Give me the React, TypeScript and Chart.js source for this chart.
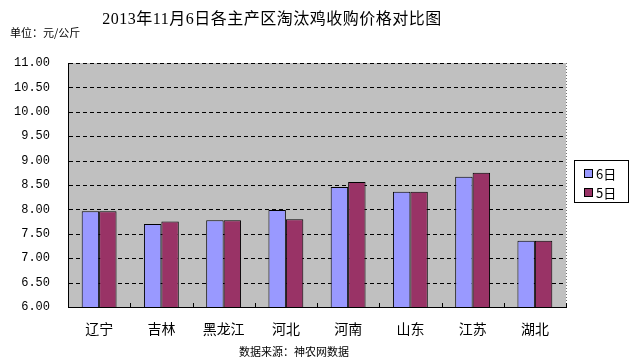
import React, { useEffect, useRef } from "react";
import { Chart, registerables } from "chart.js";

Chart.register(...registerables);

const TITLE = "2013年11月6日各主产区淘汰鸡收购价格对比图";
const UNIT = "单位：元/公斤";
const SOURCE = "数据来源：神农网数据";
const categories = ["辽宁", "吉林", "黑龙江", "河北", "河南", "山东", "江苏", "湖北"];
const seriesNames = ["6日", "5日"];
const day6 = [7.96, 7.7, 7.78, 7.99, 8.46, 8.36, 8.67, 7.36];
const day5 = [7.96, 7.75, 7.78, 7.8, 8.56, 8.36, 8.75, 7.36];
const colors = ["#9999FF", "#993366"];

const CJK = '"Noto Sans CJK SC", "Noto Sans", sans-serif';

const decor = {
  id: "decor",
  beforeDraw(chart: any) {
    const { ctx, chartArea: a } = chart;
    ctx.save();
    ctx.fillStyle = "#ffffff";
    ctx.fillRect(0, 0, chart.width, chart.height);
    ctx.fillStyle = "#C0C0C0";
    ctx.fillRect(a.left, a.top, a.right - a.left, a.bottom - a.top);
    ctx.restore();
  },
  beforeDatasetsDraw(chart: any) {
    const { ctx, chartArea: a } = chart;
    const ys = chart.scales.y;
    ctx.save();
    ctx.fillStyle = "#000";
    ys.ticks.forEach((t: any) => {
      if (t.value <= ys.min) return;
      const y = Math.round(ys.getPixelForValue(t.value));
      for (let x = Math.round(a.left) + 1; x < a.right; x += 7) {
        ctx.fillRect(x, y, Math.min(4, a.right - x), 1);
      }
    });
    ctx.restore();
  },
  afterDatasetsDraw(chart: any) {
    const { ctx, chartArea: a } = chart;
    ctx.save();
    // right dotted border
    ctx.fillStyle = "#707070";
    const rx = Math.round(a.right);
    for (let y = Math.round(a.top); y < a.bottom; y += 3) {
      ctx.fillRect(rx, y, 1, 1);
    }
    // inside tick marks on x axis
    ctx.strokeStyle = "#000";
    ctx.lineWidth = 1;
    const n = categories.length;
    const w = (a.right - a.left) / n;
    for (let i = 1; i <= n; i++) {
      const x = Math.round(a.left + i * w) + 0.5;
      ctx.beginPath();
      ctx.moveTo(x, a.bottom);
      ctx.lineTo(x, a.bottom - 4);
      ctx.stroke();
    }
    ctx.restore();
  },
  afterDraw(chart: any) {
    const { ctx } = chart;
    ctx.save();
    // title
    ctx.fillStyle = "#000";
    ctx.textBaseline = "middle";
    ctx.textAlign = "center";
    ctx.font = '16px "Liberation Serif", "Noto Sans CJK SC", serif';
    try { (ctx as any).letterSpacing = "0.5px"; } catch (e) {}
    ctx.fillText(TITLE, 272, 20);
    try { (ctx as any).letterSpacing = "0px"; } catch (e) {}
    // unit
    ctx.textAlign = "left";
    ctx.font = "11px " + CJK;
    ctx.fillText(UNIT, 10, 33);
    // source
    ctx.textAlign = "center";
    ctx.fillText(SOURCE, 294, 352);
    // legend
    const lx = 574, ly = 160, lw = 54, lh = 42;
    ctx.fillStyle = "#fff";
    ctx.fillRect(lx, ly, lw, lh);
    ctx.strokeStyle = "#000";
    ctx.lineWidth = 1;
    ctx.strokeRect(lx + 0.5, ly + 0.5, lw, lh);
    chart.data.datasets.forEach((ds: any, i: number) => {
      const cy = 173 + i * 19;
      ctx.fillStyle = ds.backgroundColor;
      ctx.fillRect(585, cy - 3, 7, 7);
      ctx.strokeStyle = "#000";
      ctx.strokeRect(584.5, cy - 3.5, 8, 8);
      ctx.fillStyle = "#000";
      ctx.textAlign = "left";
      ctx.font = "13px " + CJK;
      ctx.fillText(ds.label, 596, cy + 1);
    });
    ctx.restore();
  },
};

export default function App() {
  const ref = useRef<HTMLCanvasElement>(null);
  useEffect(() => {
    const chart = new Chart(ref.current!, {
      type: "bar",
      data: {
        labels: categories,
        datasets: [
          { label: seriesNames[0], data: day6, backgroundColor: colors[0], borderColor: "#000", borderWidth: 1 },
          { label: seriesNames[1], data: day5, backgroundColor: colors[1], borderColor: "#000", borderWidth: 1 },
        ],
      },
      options: {
        animation: false,
        responsive: false,
        maintainAspectRatio: false,
        layout: { padding: { top: 63, right: 66, left: 0, bottom: 0 } },
        plugins: { legend: { display: false }, title: { display: false }, tooltip: { enabled: false } },
        datasets: { bar: { categoryPercentage: 0.56, barPercentage: 1.0 } },
        scales: {
          x: {
            grid: { display: false },
            border: { display: true, color: "#000", width: 1 },
            ticks: { color: "#000", font: { family: CJK, size: 14 }, padding: 5, maxRotation: 0 },
            afterFit: (s: any) => { s.height = 364 - 307; },
          },
          y: {
            min: 6,
            max: 11,
            ticks: {
              stepSize: 0.5,
              color: "#000",
              font: { family: '"Liberation Mono", monospace', size: 12 },
              padding: 18,
              callback: (v: any) => Number(v).toFixed(2),
            },
            grid: { display: false, drawTicks: false },
            border: { display: true, color: "#000", width: 1 },
            afterFit: (s: any) => { s.width = 68; },
          },
        },
      },
      plugins: [decor],
    } as any);
    return () => chart.destroy();
  }, []);
  return (
    <div style={{ position: "absolute", left: 0, top: 0, width: 632, height: 364 }}>
      <canvas ref={ref} width={632} height={364} style={{ display: "block" }} />
    </div>
  );
}
